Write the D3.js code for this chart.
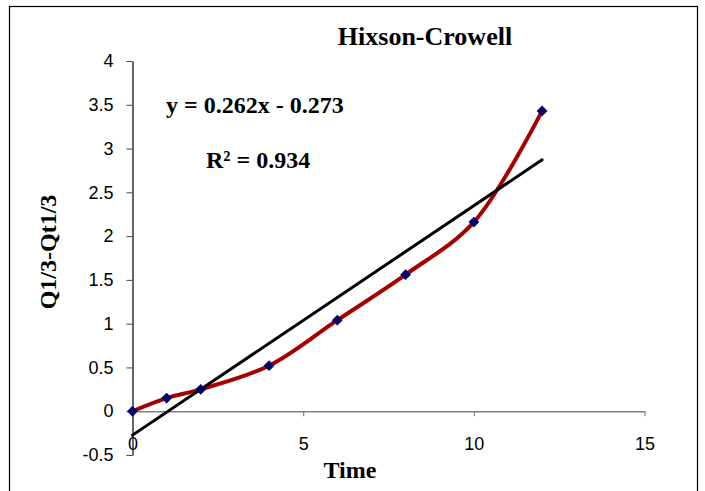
<!DOCTYPE html>
<html>
<head>
<meta charset="utf-8">
<script src="https://cdn.jsdelivr.net/npm/d3@7"></script>
<style>
  body { margin: 0; background: #fff; }
</style>
</head>
<body>
<div id="chart"></div>
<script>
var times = [0, 1, 2, 4, 6, 8, 10, 12]
var values = [0, 0.15, 0.25, 0.52, 1.04, 1.56, 2.16, 3.43]
var xTicks = [0, 5, 10, 15]
var yTicks = [-0.5, 0, 0.5, 1, 1.5, 2, 2.5, 3, 3.5, 4]
var slope = 0.262, intercept = -0.273
var trendRange = [0, 12]

var width = 705,
    height = 491

var svg = d3.select("#chart")
  .append("svg")
    .attr("width", width)
    .attr("height", height)

// outer frame (bottom edge runs off the picture)
svg.append("rect")
  .attr("x", 9.5).attr("y", 6.5)
  .attr("width", 688).attr("height", 500)
  .attr("fill", "none").attr("stroke", "#000").attr("stroke-width", 1.2)

var x = d3.scaleLinear().domain([0, 15]).range([132.5, 644.5])
var y = d3.scaleLinear().domain([-0.5, 4]).range([455, 61])

// x axis sits on y = 0
var xAxis = svg.append("g")
  .attr("transform", "translate(0," + y(0) + ")")
  .call(d3.axisBottom(x).tickValues(xTicks).tickSize(5).tickPadding(21).tickSizeOuter(0)
    .tickFormat(function(d) { return String(d) }))
xAxis.select(".domain").attr("stroke", "#808080").attr("stroke-width", 1.5)
xAxis.selectAll(".tick line").attr("stroke", "#808080").attr("stroke-width", 1.2)
xAxis.selectAll("text")
  .style("font-family", "'Liberation Sans', Arial, sans-serif")
  .style("font-size", "18px")
  .attr("fill", "#000")

var yAxis = svg.append("g")
  .attr("transform", "translate(" + x(0) + ",0)")
  .call(d3.axisLeft(y).tickValues(yTicks).tickSize(6).tickPadding(13).tickSizeOuter(0)
    .tickFormat(function(d) { return String(d) }))
yAxis.select(".domain").attr("stroke", "#000").attr("stroke-width", 1.2)
yAxis.selectAll(".tick line").attr("stroke", "#444")
yAxis.selectAll("text")
  .style("font-family", "'Liberation Sans', Arial, sans-serif")
  .style("font-size", "18px")
  .attr("fill", "#000")

var pts = times.map(function(t, i) { return [t, values[i]] })

// smoothed data line
var line = d3.line()
  .x(function(d) { return x(d[0]) })
  .y(function(d) { return y(d[1]) })
  .curve(d3.curveCatmullRom.alpha(0.5))

svg.append("path")
  .datum(pts)
  .attr("d", line)
  .attr("fill", "none")
  .attr("stroke", "#a50000")
  .attr("stroke-width", 4)

// linear trendline
svg.append("path")
  .datum(trendRange.map(function(t) { return [t, slope * t + intercept] }))
  .attr("d", d3.line().x(function(d) { return x(d[0]) }).y(function(d) { return y(d[1]) }))
  .attr("fill", "none")
  .attr("stroke", "#000")
  .attr("stroke-width", 3)
  .attr("stroke-linecap", "round")

// diamond markers
svg.selectAll("markers")
  .data(pts)
  .enter()
  .append("path")
    .attr("d", d3.symbol().type(d3.symbolDiamond2).size(75))
    .attr("transform", function(d) { return "translate(" + x(d[0]) + "," + y(d[1]) + ")" })
    .attr("fill", "#000066")

var serif = "'Liberation Serif', 'Times New Roman', serif"

svg.append("text")
  .attr("x", 425).attr("y", 45)
  .attr("text-anchor", "middle")
  .style("font-family", serif).style("font-weight", "bold").style("font-size", "26px")
  .text("Hixson-Crowell")

svg.append("text")
  .attr("x", 166).attr("y", 113)
  .style("font-family", serif).style("font-weight", "bold").style("font-size", "24px")
  .text("y = 0.262x - 0.273")

svg.append("text")
  .attr("x", 206).attr("y", 168)
  .style("font-family", serif).style("font-weight", "bold").style("font-size", "24px")
  .text("R² = 0.934")

svg.append("text")
  .attr("x", 350).attr("y", 478)
  .attr("text-anchor", "middle")
  .style("font-family", serif).style("font-weight", "bold").style("font-size", "24px")
  .text("Time")

svg.append("text")
  .attr("transform", "translate(56,252) rotate(-90)")
  .attr("text-anchor", "middle")
  .style("font-family", serif).style("font-weight", "bold").style("font-size", "24px")
  .text("Q1/3-Qt1/3")
</script>
</body>
</html>
